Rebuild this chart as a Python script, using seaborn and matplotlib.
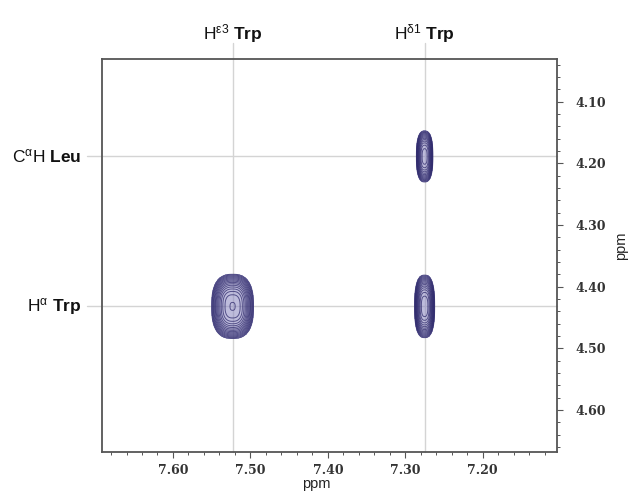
import numpy as np
import matplotlib
matplotlib.use("Agg")
import matplotlib.pyplot as plt
from matplotlib.ticker import MultipleLocator, FormatStrFormatter
import seaborn as sns

# Cross-peak table (1H-1H 2D spectrum)
peak_h2 = [7.523, 7.275, 7.275]          # direct dimension, ppm
peak_h1 = [4.432, 4.189, 4.432]          # indirect dimension, ppm
peak_halfwidth_h2 = [0.027, 0.011, 0.013]
peak_halfwidth_h1 = [0.052, 0.043, 0.051]
peak_intensity = [1.0, 0.75, 0.95]

# Assignment lines
assign_h2 = [7.523, 7.275]
assign_h2_labels = [r"H$^{\mathrm{ε3}}$ $\mathbf{Trp}$", r"H$^{\mathrm{δ1}}$ $\mathbf{Trp}$"]
assign_h1 = [4.189, 4.432]
assign_h1_labels = [r"C$^{\mathrm{α}}$H $\mathbf{Leu}$", r"H$^{\mathrm{α}}$ $\mathbf{Trp}$"]

x_ticks = [7.60, 7.50, 7.40, 7.30, 7.20]
y_ticks = [4.10, 4.20, 4.30, 4.40, 4.50, 4.60]
x_range = (7.692, 7.104)
y_range = (4.668, 4.031)

sns.set_theme(style="white")
plt.rcParams["font.family"] = ["Liberation Sans", "DejaVu Sans"]
plt.rcParams["mathtext.fontset"] = "custom"
plt.rcParams["mathtext.rm"] = "Liberation Sans"
plt.rcParams["mathtext.bf"] = "Liberation Sans:bold"
plt.rcParams["mathtext.it"] = "Liberation Sans:italic"

fig = plt.figure(figsize=(6.33, 4.93), dpi=100)
ax = fig.add_axes([0.1607, 0.0832, 0.7193, 0.7972])

# Spectrum surface built from the peak table
gx = np.linspace(min(x_range), max(x_range), 700)
gy = np.linspace(min(y_range), max(y_range), 700)
X, Y = np.meshgrid(gx, gy)
Z = np.zeros_like(X)
floor = 0.05
p = 2.6
r0 = (-np.log(floor)) ** (1.0 / p)
for cx, cy, wx, wy, a in zip(peak_h2, peak_h1, peak_halfwidth_h2,
                             peak_halfwidth_h1, peak_intensity):
    sx, sy = wx / r0, wy / r0
    Z += a * np.exp(-(np.abs((X - cx) / sx) ** p + np.abs((Y - cy) / sy) ** p))

levels = floor * 1.22 ** np.arange(16)
levels = levels[levels < 1.0]

ax.contourf(X, Y, Z, levels=[levels[0], 10], colors=["#8a86c0"], alpha=0.55, zorder=2)
ax.contour(X, Y, Z, levels=levels, colors="#2f2a6c", linewidths=0.7, alpha=0.75, zorder=3)

grid_col = "#d4d4d4"
for xv, lab in zip(assign_h2, assign_h2_labels):
    ax.axvline(xv, ymin=0, ymax=1.041, color=grid_col, lw=1.0, clip_on=False, zorder=1)
    ax.text(xv, 1.05, lab, transform=ax.get_xaxis_transform(), ha="center",
            va="baseline", fontsize=12.5, color="#111111")
for yv, lab in zip(assign_h1, assign_h1_labels):
    ax.axhline(yv, xmin=-0.032, xmax=1, color=grid_col, lw=1.0, clip_on=False, zorder=1)
    ax.text(-0.045, yv, lab, transform=ax.get_yaxis_transform(), ha="right",
            va="center", fontsize=12.5, color="#111111")

ax.set_xlim(*x_range)
ax.set_ylim(*y_range)

ax.xaxis.set_major_locator(plt.FixedLocator(x_ticks))
ax.xaxis.set_minor_locator(MultipleLocator(0.02))
ax.yaxis.set_major_locator(plt.FixedLocator(y_ticks))
ax.yaxis.set_minor_locator(MultipleLocator(0.02))
ax.xaxis.set_major_formatter(FormatStrFormatter("%.2f"))
ax.yaxis.set_major_formatter(FormatStrFormatter("%.2f"))
ax.yaxis.tick_right()
ax.yaxis.set_label_position("right")

ax.tick_params(axis="both", which="major", direction="out", length=4, width=0.8,
               color="#555555", labelcolor="#333333")
ax.tick_params(axis="both", which="minor", direction="out", length=2.5, width=0.7,
               color="#555555")
ax.tick_params(axis="x", which="major", pad=5)
ax.tick_params(axis="y", which="major", pad=9)
ax.tick_params(axis="y", which="both", left=False, right=True)
ax.tick_params(axis="x", which="both", top=False, bottom=True)
for lbl in ax.get_xticklabels() + ax.get_yticklabels():
    lbl.set_fontfamily("DejaVu Serif")
    lbl.set_fontweight("bold")
    lbl.set_fontsize(9)

for s in ax.spines.values():
    s.set_visible(True)
    s.set_color("#555555")
    s.set_linewidth(1.3)

ax.set_xlabel("ppm", fontsize=10.5, color="#222222")
ax.set_ylabel("ppm", fontsize=10.5, color="#222222")
ax.xaxis.set_label_coords(0.471, -0.064)
ax.yaxis.set_label_coords(1.125, 0.524)

fig.savefig("out.png", dpi=100)
